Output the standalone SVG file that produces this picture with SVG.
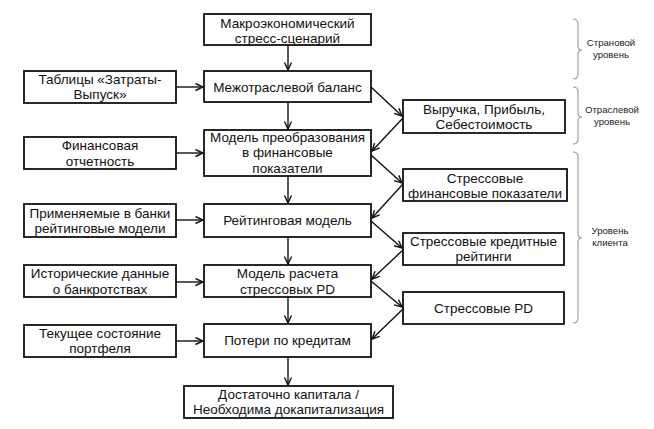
<svg xmlns="http://www.w3.org/2000/svg" width="654" height="429" viewBox="0 0 654 429">
<defs>
<marker id="arr" markerUnits="userSpaceOnUse" markerWidth="10" markerHeight="10" refX="8" refY="4" orient="auto">
<path d="M0.5,0.5 L8,4 L0.5,7.5" fill="none" stroke="#111" stroke-width="1.4"/>
</marker>
<style>
.box{fill:#fff;stroke:#111;stroke-width:1.8}
.t{font-family:"Liberation Sans",Arial,sans-serif;font-size:13.5px;fill:#111;text-anchor:middle}
.s{font-family:"Liberation Sans",Arial,sans-serif;font-size:9.6px;fill:#222;text-anchor:middle}
.c{fill:none;stroke:#111;stroke-width:1.4;marker-end:url(#arr)}
.br{fill:none;stroke:#9a9a9a;stroke-width:1.1}
</style>
</defs>
<rect width="654" height="429" fill="#fff"/>

<g id="macro"><rect class="box" x="204" y="14" width="167" height="31"/>
<text class="t" x="287.5" y="27.5">Макроэкономический</text><text class="t" x="287.5" y="43">стресс-сценарий</text></g>
<g id="mob"><rect class="box" x="204" y="71" width="167" height="31"/>
<text class="t" x="287.5" y="91.5">Межотраслевой баланс</text></g>
<g id="io"><rect class="box" x="24" y="71" width="152" height="32"/>
<text class="t" x="100" y="84">Таблицы «Затраты-</text><text class="t" x="100" y="99">Выпуск»</text></g>
<g id="transform"><rect class="box" x="204" y="130" width="167" height="46"/>
<text class="t" x="287.5" y="141.5">Модель преобразования</text><text class="t" x="287.5" y="157">в финансовые</text><text class="t" x="287.5" y="172.5">показатели</text></g>
<g id="fin"><rect class="box" x="24" y="137" width="152" height="32"/>
<text class="t" x="100" y="150">Финансовая</text><text class="t" x="100" y="165.5">отчетность</text></g>
<g id="rating"><rect class="box" x="204" y="204" width="167" height="33"/>
<text class="t" x="287.5" y="225">Рейтинговая модель</text></g>
<g id="bankmodels"><rect class="box" x="24" y="204" width="152" height="33"/>
<text class="t" x="100" y="217.5">Применяемые в банки</text><text class="t" x="100" y="232.5">рейтинговые модели</text></g>
<g id="pdmodel"><rect class="box" x="204" y="265" width="167" height="32"/>
<text class="t" x="287.5" y="278">Модель расчета</text><text class="t" x="287.5" y="293.5">стрессовых PD</text></g>
<g id="hist"><rect class="box" x="24" y="265" width="152" height="32"/>
<text class="t" x="100" y="278">Исторические данные</text><text class="t" x="100" y="293.5">о банкротствах</text></g>
<g id="losses"><rect class="box" x="204" y="324" width="167" height="33"/>
<text class="t" x="287.5" y="345">Потери по кредитам</text></g>
<g id="portfolio"><rect class="box" x="24" y="325" width="152" height="32"/>
<text class="t" x="100" y="337.5">Текущее состояние</text><text class="t" x="100" y="352.5">портфеля</text></g>
<g id="capital"><rect class="box" x="184" y="386" width="209" height="32"/>
<text class="t" x="288.5" y="398.5">Достаточно капитала /</text><text class="t" x="288.5" y="413.5">Необходима докапитализация</text></g>

<g id="revenue"><rect class="box" x="403" y="100" width="162" height="33"/>
<text class="t" x="484" y="114">Выручка, Прибыль,</text><text class="t" x="484" y="129">Себестоимость</text></g>
<g id="stressfin"><rect class="box" x="403" y="169" width="164" height="32"/>
<text class="t" x="485" y="182.5">Стрессовые</text><text class="t" x="485" y="198">финансовые показатели</text></g>
<g id="stressrating"><rect class="box" x="403" y="233" width="161" height="32"/>
<text class="t" x="483.5" y="245.5">Стрессовые кредитные</text><text class="t" x="483.5" y="261">рейтинги</text></g>
<g id="stresspd"><rect class="box" x="403" y="292" width="161" height="32"/>
<text class="t" x="483.5" y="313">Стрессовые PD</text></g>

<g id="connectors">
<line class="c" x1="288" y1="45" x2="288" y2="70"/>
<line class="c" x1="288" y1="102" x2="288" y2="129"/>
<line class="c" x1="288" y1="176" x2="288" y2="203"/>
<line class="c" x1="288" y1="237" x2="288" y2="264"/>
<line class="c" x1="288" y1="297" x2="288" y2="323"/>
<line class="c" x1="288" y1="357" x2="288" y2="385"/>
<line class="c" x1="176" y1="87" x2="203" y2="87"/>
<line class="c" x1="176" y1="153" x2="203" y2="153"/>
<line class="c" x1="176" y1="220" x2="203" y2="220"/>
<line class="c" x1="176" y1="282" x2="203" y2="282"/>
<line class="c" x1="176" y1="341" x2="203" y2="341"/>
<line class="c" x1="371" y1="87" x2="402" y2="116"/>
<line class="c" x1="403" y1="118" x2="372" y2="151"/>
<line class="c" x1="371" y1="155" x2="402" y2="183"/>
<line class="c" x1="403" y1="184" x2="372" y2="218"/>
<line class="c" x1="371" y1="221" x2="402" y2="248"/>
<line class="c" x1="403" y1="250" x2="372" y2="279"/>
<line class="c" x1="371" y1="281" x2="402" y2="307"/>
<line class="c" x1="403" y1="309" x2="372" y2="339"/>
</g>

<g id="levels">
<path class="br" d="M573,19 Q578,19 578,24 L578,46 Q578,50 582,50 Q578,50 578,54 L578,74 Q578,79 573,79"/>
<text class="s" x="611" y="46">Страновой</text><text class="s" x="611" y="58">уровень</text>
<path class="br" d="M573,87 Q578,87 578,92 L578,113 Q578,117 582,117 Q578,117 578,121 L578,139 Q578,144 573,144"/>
<text class="s" x="612" y="113">Отраслевой</text><text class="s" x="612" y="124.5">уровень</text>
<path class="br" d="M573,152 Q578,152 578,157 L578,234 Q578,238 582,238 Q578,238 578,242 L578,318 Q578,323 573,323"/>
<text class="s" x="610" y="234">Уровень</text><text class="s" x="610" y="246">клиента</text>
</g>
</svg>
